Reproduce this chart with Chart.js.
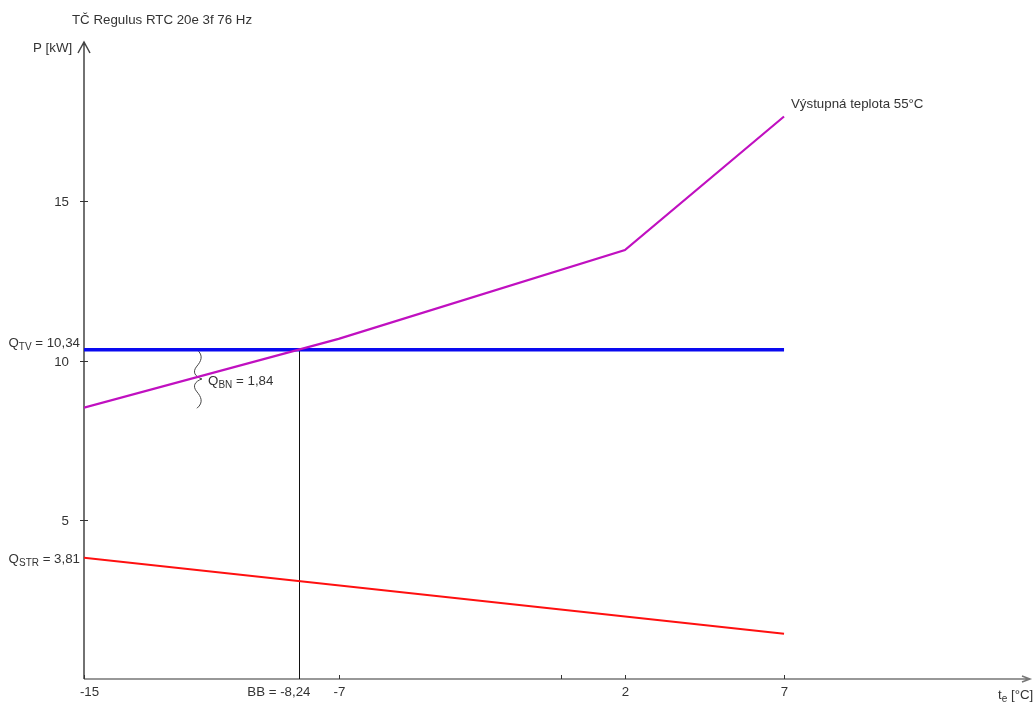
<!DOCTYPE html>
<html>
<head>
<meta charset="utf-8">
<script src="https://cdn.jsdelivr.net/npm/chart.js@4.4.1/dist/chart.umd.min.js"></script>
<style>
  html, body { margin: 0; padding: 0; background: #ffffff; }
  #wrap { width: 1035px; height: 704px; position: relative; }
</style>
</head>
<body>
<div id="wrap"><canvas id="c" width="1035" height="704"></canvas></div>
<script>
// Outdoor temperature points (°C)
const temps = [-15, -7, 2, 7];
// Heat pump output at 55 °C flow temperature (kW)
const outputPower = [8.52, 10.68, 13.47, 17.66];
// Heat loss of the building, end points (kW)
const lossTemps = [-15, 7];
const heatLoss = [3.81, 1.42];
// Design heat demand (kW)
const designTemps = [-15, 7];
const designLoad = [10.34, 10.34];
// Bivalence point and related values
const bivalenceTemp = -8.24;
const bivalencePower = 10.34;
const backupPower = 1.84;
// Axis ticks
const xTicks = [-15, -7, 0, 2, 7];
const xTickLabels = ['-15', '-7', '', '2', '7'];
const yTicks = [5, 10, 15];
const yTickLabels = ['5', '10', '15'];

const toPoints = (xs, ys) => xs.map((x, i) => ({ x, y: ys[i] }));

const FONT = '"Liberation Sans", Arial, sans-serif';
const MAIN = '13.3px ' + FONT;
const SUB = '10px ' + FONT;
const TEXT = '#333333';

function subText(ctx, x, y, main, sub, rest, align) {
  // draws "main" + subscript "sub" + "rest", baseline y
  ctx.font = MAIN;
  const w1 = ctx.measureText(main).width;
  ctx.font = SUB;
  const w2 = ctx.measureText(sub).width;
  ctx.font = MAIN;
  const w3 = ctx.measureText(rest).width;
  let sx = x;
  if (align === 'right') sx = x - (w1 + w2 + w3);
  ctx.textAlign = 'left';
  ctx.textBaseline = 'alphabetic';
  ctx.fillStyle = TEXT;
  ctx.font = MAIN;
  ctx.fillText(main, sx, y);
  ctx.font = SUB;
  ctx.fillText(sub, sx + w1, y + 3);
  ctx.font = MAIN;
  ctx.fillText(rest, sx + w1 + w2, y);
}

const decorations = {
  id: 'decorations',
  beforeDatasetsDraw(chart) {
    const ctx = chart.ctx;
    const xs = chart.scales.x, ys = chart.scales.y;
    const x0 = xs.getPixelForValue(-15);
    const y0 = ys.getPixelForValue(0);
    const top = chart.chartArea.top;
    const right = chart.chartArea.right;
    ctx.save();
    // axes
    ctx.strokeStyle = '#444444';
    ctx.lineWidth = 1.5;
    ctx.beginPath();
    ctx.moveTo(x0, y0); ctx.lineTo(x0, top);
    ctx.moveTo(x0 - 6, top + 11); ctx.lineTo(x0, top); ctx.lineTo(x0 + 6, top + 11);
    ctx.stroke();
    ctx.strokeStyle = '#777777';
    ctx.beginPath();
    ctx.moveTo(x0, y0); ctx.lineTo(right, y0);
    ctx.moveTo(right - 8, y0 - 3); ctx.lineTo(right, y0); ctx.lineTo(right - 8, y0 + 3);
    ctx.stroke();
    // y ticks
    ctx.strokeStyle = '#333333';
    ctx.lineWidth = 1;
    ctx.fillStyle = TEXT;
    ctx.font = MAIN;
    ctx.textAlign = 'right';
    ctx.textBaseline = 'middle';
    yTicks.forEach((v, i) => {
      const py = Math.round(ys.getPixelForValue(v)) + 0.5;
      ctx.beginPath();
      ctx.moveTo(x0 - 4, py); ctx.lineTo(x0 + 4, py);
      ctx.stroke();
      ctx.fillText(yTickLabels[i], x0 - 15, py + 1);
    });
    // x ticks
    ctx.textAlign = 'center';
    ctx.textBaseline = 'alphabetic';
    xTicks.forEach((v, i) => {
      const px = Math.round(xs.getPixelForValue(v)) + 0.5;
      ctx.beginPath();
      ctx.moveTo(px, y0 - 4); ctx.lineTo(px, y0);
      ctx.stroke();
      const off = v === -15 ? 5 : 0;
      ctx.fillText(xTickLabels[i], px + off, y0 + 17);
    });
    // bivalence vertical line
    const bx = Math.round(xs.getPixelForValue(bivalenceTemp)) + 0.5;
    const by = ys.getPixelForValue(bivalencePower);
    ctx.strokeStyle = '#111111';
    ctx.beginPath();
    ctx.moveTo(bx, y0); ctx.lineTo(bx, by);
    ctx.stroke();
    ctx.textAlign = 'right';
    ctx.fillText('BB = -' + String(Math.abs(bivalenceTemp)).replace('.', ','), bx + 11, y0 + 17);
    // brace spanning the backup heater power
    const braceX = xs.getPixelForValue(-11.45);
    const bt = ys.getPixelForValue(bivalencePower);
    const bb = ys.getPixelForValue(bivalencePower - backupPower);
    const mid = (bt + bb) / 2;
    const h = bb - bt;
    ctx.strokeStyle = '#444444';
    ctx.lineWidth = 1;
    ctx.beginPath();
    ctx.moveTo(braceX, bt);
    ctx.bezierCurveTo(braceX + 7, bt + h * 0.1, braceX + 4, bt + h * 0.2, braceX, bt + h * 0.28);
    ctx.bezierCurveTo(braceX - 5, bt + h * 0.38, braceX - 2, bt + h * 0.46, braceX + 5, mid);
    ctx.bezierCurveTo(braceX - 2, bt + h * 0.54, braceX - 5, bt + h * 0.62, braceX, bt + h * 0.72);
    ctx.bezierCurveTo(braceX + 4, bt + h * 0.8, braceX + 7, bt + h * 0.9, braceX, bb);
    ctx.stroke();
    ctx.restore();
  },
  afterDraw(chart) {
    const ctx = chart.ctx;
    const xs = chart.scales.x, ys = chart.scales.y;
    const x0 = xs.getPixelForValue(-15);
    ctx.save();
    ctx.fillStyle = TEXT;
    ctx.font = MAIN;
    ctx.textAlign = 'left';
    ctx.textBaseline = 'alphabetic';
    ctx.fillText('TČ Regulus RTC 20e 3f 76 Hz', 72, 24);
    ctx.fillText('P [kW]', 33, 52);
    ctx.fillText('Výstupná teplota 55°C', 791, 108);
    subText(ctx, x0 - 4, ys.getPixelForValue(bivalencePower) - 3, 'Q', 'TV', ' = ' + String(bivalencePower).replace('.', ','), 'right');
    subText(ctx, x0 - 4, ys.getPixelForValue(heatLoss[0]) + 5, 'Q', 'STR', ' = ' + String(heatLoss[0]).replace('.', ','), 'right');
    subText(ctx, xs.getPixelForValue(-11.1), ys.getPixelForValue(bivalencePower - backupPower / 2) + 6, 'Q', 'BN', ' = ' + String(backupPower).replace('.', ','), 'left');
    subText(ctx, 998, chart.height - 5, 't', 'e', ' [°C]', 'left');
    ctx.restore();
  }
};

new Chart(document.getElementById('c'), {
  type: 'line',
  data: {
    datasets: [
      {
        label: 'Výstupná teplota 55°C',
        data: toPoints(temps, outputPower),
        borderColor: '#c010c0',
        borderWidth: 2.2,
        pointRadius: 0,
        tension: 0,
        order: 1
      },
      {
        label: 'QTV',
        data: toPoints(designTemps, designLoad),
        borderColor: '#0a0af0',
        borderWidth: 3.5,
        pointRadius: 0,
        order: 2
      },
      {
        label: 'QSTR',
        data: toPoints(lossTemps, heatLoss),
        borderColor: '#ff1010',
        borderWidth: 2,
        pointRadius: 0,
        order: 3
      }
    ]
  },
  options: {
    responsive: false,
    animation: false,
    layout: { padding: { left: 84, right: 5, top: 42, bottom: 25 } },
    plugins: { legend: { display: false }, tooltip: { enabled: false }, title: { display: false } },
    scales: {
      x: { type: 'linear', display: false, min: -15, max: 14.73 },
      y: { type: 'linear', display: false, min: 0, max: 20 }
    }
  },
  plugins: [decorations]
});
</script>
</body>
</html>
